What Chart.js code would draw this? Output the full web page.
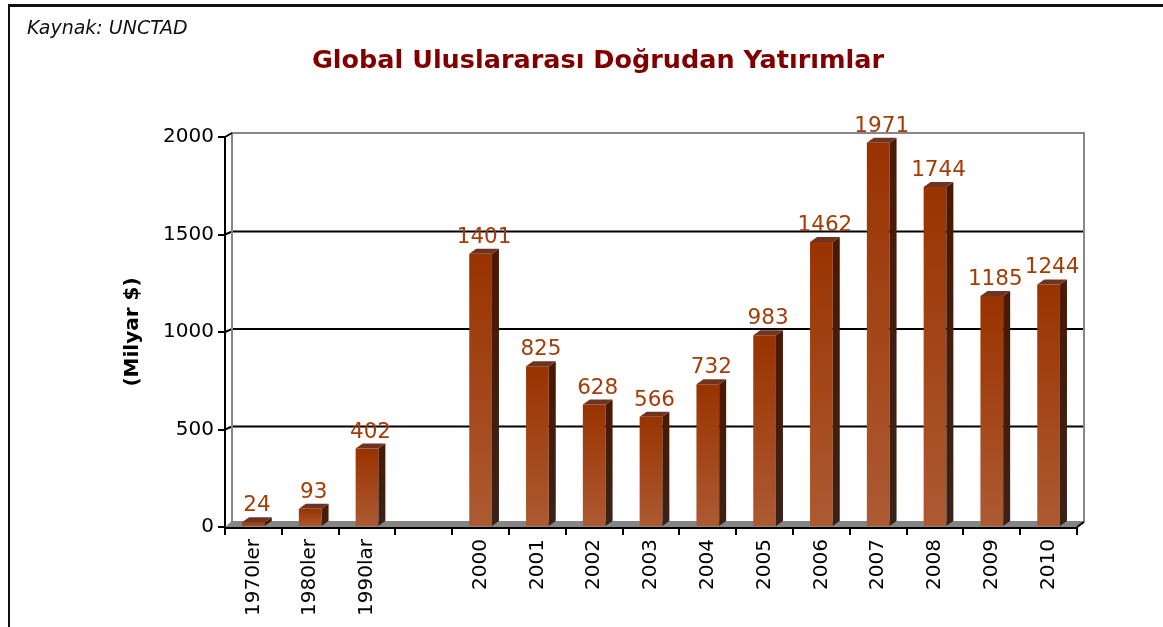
<!DOCTYPE html>
<html>
<head>
<meta charset="utf-8">
<script src="https://cdn.jsdelivr.net/npm/chart.js@4/dist/chart.umd.min.js"></script>
<style>
  body { margin: 0; background: #fff; overflow: hidden; }
  #frame { position: absolute; left: 8px; top: 4px; width: 1200px; height: 700px; border-left: 2px solid #111; border-top: 3px solid #111; }
  #wrap { position: absolute; left: 0; top: 0; width: 1163px; height: 627px; }
</style>
</head>
<body>
<div id="frame"></div>
<div id="wrap"><canvas id="fdiChart" width="1163" height="627"></canvas></div>
<script>
// kategoriler ve degerler (Milyar $)
const labels = ["1970ler", "1980ler", "1990lar", "", "2000", "2001", "2002", "2003", "2004", "2005", "2006", "2007", "2008", "2009", "2010"];
const values = [24, 93, 402, null, 1401, 825, 628, 566, 732, 983, 1462, 1971, 1744, 1185, 1244];
const yTicks = [0, 500, 1000, 1500, 2000];

const DX = 7, DY = 5; // 3d derinlik

// gradient for the front face of each bar
const barFill = (ctx) => {
  const chart = ctx.chart;
  const v = ctx.raw;
  if (!chart.chartArea || v == null) return "#a0400a";
  const y = chart.scales.y;
  const top = y.getPixelForValue(v), bottom = y.getPixelForValue(0);
  const g = chart.ctx.createLinearGradient(0, top, 0, bottom);
  g.addColorStop(0, "#993300");
  g.addColorStop(1, "#ad5a33");
  return g;
};

const backWall = {
  id: "backWall",
  beforeDatasetsDraw(chart) {
    const {ctx, chartArea: a, scales: {y}} = chart;
    ctx.save();
    // floor
    ctx.fillStyle = "#858585";
    ctx.beginPath();
    ctx.moveTo(a.left, a.bottom);
    ctx.lineTo(a.left + DX, a.bottom - DY - 1);
    ctx.lineTo(a.right + DX, a.bottom - DY - 1);
    ctx.lineTo(a.right, a.bottom);
    ctx.closePath();
    ctx.fill();
    // gridlines on the back wall
    ctx.strokeStyle = "#000";
    ctx.lineWidth = 2;
    yTicks.slice(1, -1).forEach(t => {
      const py = y.getPixelForValue(t);
      ctx.beginPath();
      ctx.moveTo(a.left, py);
      ctx.lineTo(a.left + DX, py - 3);
      ctx.lineTo(a.right + DX, py - 3);
      ctx.stroke();
    });
    // wall outline
    const top = y.getPixelForValue(2000) - 4;
    ctx.strokeStyle = "#888";
    ctx.beginPath();
    ctx.moveTo(a.left + DX, a.bottom - DY);
    ctx.lineTo(a.left + DX, top);
    ctx.lineTo(a.right + DX, top);
    ctx.lineTo(a.right + DX, a.bottom - DY);
    ctx.stroke();
    ctx.strokeStyle = "#000";
    ctx.beginPath();
    ctx.moveTo(a.left, y.getPixelForValue(2000));
    ctx.lineTo(a.left + DX, top);
    ctx.moveTo(a.right, a.bottom);
    ctx.lineTo(a.right + DX, a.bottom - DY);
    ctx.stroke();
    ctx.restore();
  }
};

const bars3d = {
  id: "bars3d",
  afterDatasetsDraw(chart) {
    const {ctx} = chart;
    const meta = chart.getDatasetMeta(0);
    ctx.save();
    meta.data.forEach((bar, i) => {
      const v = values[i];
      if (v == null) return;
      const {x, y, base, width} = bar.getProps(["x", "y", "base", "width"], true);
      const l = x - width / 2, r = x + width / 2;
      // side
      const g = ctx.createLinearGradient(0, y, 0, base);
      g.addColorStop(0, "#4c1800");
      g.addColorStop(1, "#3a2218");
      ctx.fillStyle = g;
      ctx.beginPath();
      ctx.moveTo(r, y);
      ctx.lineTo(r + DX, y - DY);
      ctx.lineTo(r + DX, base - DY);
      ctx.lineTo(r, base);
      ctx.closePath();
      ctx.fill();
      // top
      ctx.fillStyle = "#6e3420";
      ctx.beginPath();
      ctx.moveTo(l, y);
      ctx.lineTo(l + DX, y - DY);
      ctx.lineTo(r + DX, y - DY);
      ctx.lineTo(r, y);
      ctx.closePath();
      ctx.fill();
      // value label
      ctx.fillStyle = "#a33c08";
      ctx.font = "21.5px 'DejaVu Sans'";
      ctx.textAlign = "center";
      ctx.textBaseline = "alphabetic";
      ctx.fillText(String(v), x + DX / 2, y - DY - 6);
    });
    ctx.restore();
  }
};

const headings = {
  id: "headings",
  afterDraw(chart) {
    const {ctx} = chart;
    ctx.save();
    ctx.textBaseline = "middle";
    ctx.font = "italic 19px 'DejaVu Sans'";
    ctx.fillStyle = "#111";
    ctx.textAlign = "left";
    ctx.fillText("Kaynak: UNCTAD", 27, 29);
    ctx.font = "bold 25.5px 'DejaVu Sans'";
    ctx.fillStyle = "#800000";
    ctx.textAlign = "center";
    ctx.fillText("Global Uluslararası Doğrudan Yatırımlar", 598, 61);
    ctx.restore();
  }
};

const renderChart = () => {
  const ctx = document.getElementById("fdiChart").getContext("2d");
  new Chart(ctx, {
    type: "bar",
    data: {
      labels: labels,
      datasets: [{
        label: "Milyar $",
        data: values,
        backgroundColor: barFill,
        borderWidth: 0,
        barPercentage: 0.4,
        categoryPercentage: 1
      }]
    },
    options: {
      responsive: false,
      animation: false,
      layout: { padding: { left: 0, right: 86, top: 137, bottom: 0 } },
      plugins: {
        legend: { display: false },
        tooltip: { enabled: false },
        title: { display: false }
      },
      scales: {
        x: {
          grid: { drawOnChartArea: false, drawTicks: true, tickLength: 8, color: "#000", lineWidth: 2 },
          border: { display: true, color: "#000", width: 3 },
          ticks: {
            color: "#000",
            font: { family: "'DejaVu Sans'", size: 20 },
            minRotation: 90,
            maxRotation: 90,
            padding: 4,
            autoSkip: false
          },
          afterFit: (scale) => { scale.height = 100; }
        },
        y: {
          min: 0,
          max: 2000,
          afterBuildTicks: (scale) => { scale.ticks = yTicks.map(v => ({ value: v })); },
          grid: { drawOnChartArea: false, drawTicks: true, tickLength: 7, color: "#000", lineWidth: 2 },
          border: { display: true, color: "#000", width: 2 },
          ticks: {
            color: "#000",
            font: { family: "'DejaVu Sans'", size: 20 },
            padding: 4,
            callback: (v) => String(v)
          },
          title: {
            display: true,
            text: "(Milyar $)",
            color: "#000",
            font: { family: "'DejaVu Sans'", size: 20, weight: "bold" },
            padding: { top: 121 }
          },
          afterFit: (scale) => { scale.width = 225; }
        }
      }
    },
    plugins: [backWall, bars3d, headings]
  });
};
window.onload = renderChart;
</script>
</body>
</html>
